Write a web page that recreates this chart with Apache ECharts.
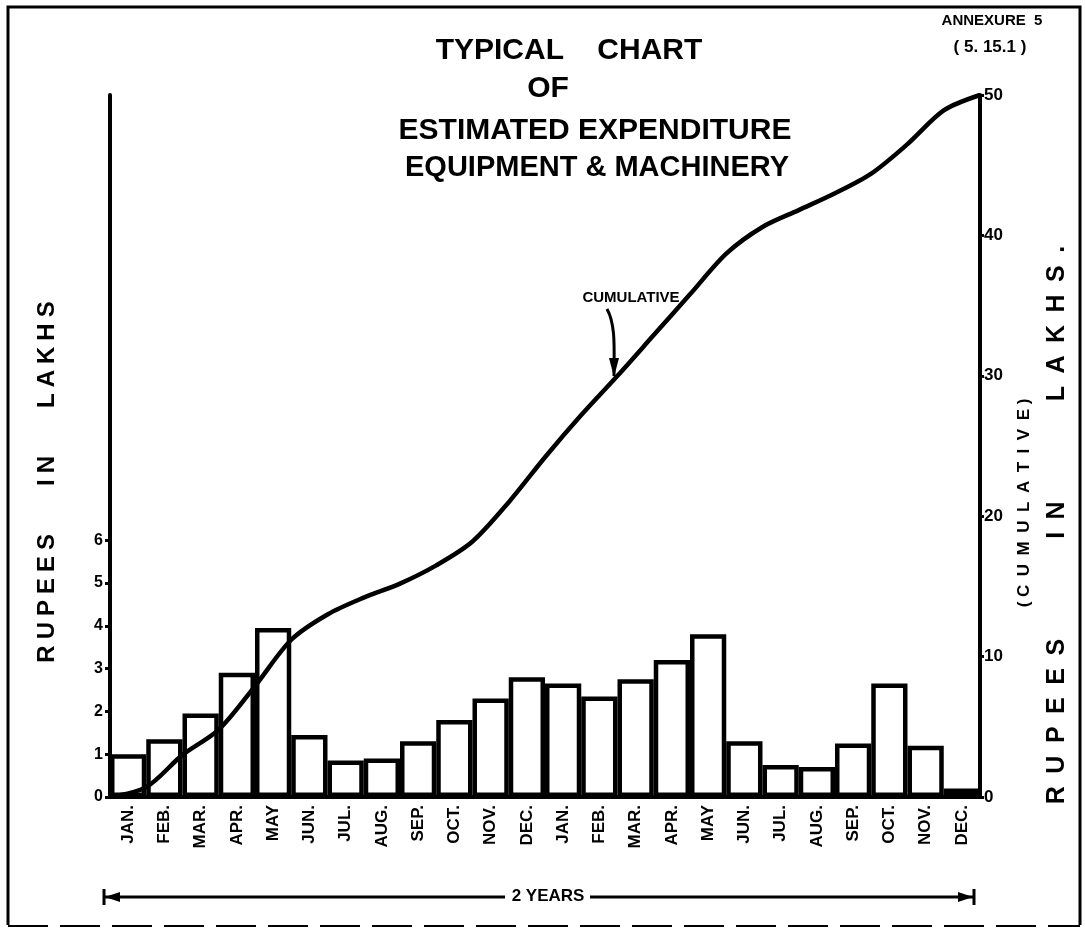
<!DOCTYPE html>
<html>
<head>
<meta charset="utf-8">
<script src="https://cdn.jsdelivr.net/npm/echarts@6/dist/echarts.min.js"></script>
<style>
html,body{margin:0;padding:0;background:#fff;}
#chart{width:1085px;height:935px;}
</style>
</head>
<body>
<div id="chart"></div>
<script>
// ---- data ----
const months = ["JAN.","FEB.","MAR.","APR.","MAY","JUN.","JUL.","AUG.","SEP.","OCT.","NOV.","DEC.",
                "JAN.","FEB.","MAR.","APR.","MAY","JUN.","JUL.","AUG.","SEP.","OCT.","NOV.","DEC."];
const monthlyExpenditure = [1.0,1.35,1.95,2.9,3.95,1.45,0.85,0.9,1.3,1.8,2.3,2.8,
                            2.65,2.35,2.75,3.2,3.8,1.3,0.75,0.7,1.25,2.65,1.2,0.2];
// cumulative value at each month boundary (0 = start of first JAN, 24 = end of last DEC)
const cumulative = [0,0.7,3.0,4.8,7.9,11.2,13.0,14.2,15.2,16.5,18.2,21.0,24.2,27.2,30.0,32.9,35.8,38.7,40.6,41.8,43.0,44.4,46.5,48.9,50];
const leftTicks = [0,1,2,3,4,5,6];
const rightTicks = [0,10,20,30,40,50];

const FONT = '"Liberation Sans", Arial, sans-serif';
const spaced = (s, sep) => s.split('').join(sep);

const chart = echarts.init(document.getElementById('chart'));
const lineData = cumulative.map((v, i) => [i, v]);

chart.setOption({
  animation: false,
  backgroundColor: '#fff',
  grid: { left: 110, right: 105, top: 95, bottom: 138, containLabel: false },
  xAxis: [
    {
      type: 'category', data: months, gridIndex: 0,
      axisLine: { lineStyle: { color: '#000', width: 4 } },
      axisTick: { show: false },
      axisLabel: { rotate: 90, color: '#000', fontFamily: FONT, fontWeight: 'bold', fontSize: 17, margin: 8, interval: 0 }
    },
    { type: 'value', min: 0, max: 24, show: false, gridIndex: 0 }
  ],
  yAxis: [
    {
      type: 'value', min: 0, max: 16.4, position: 'left',
      splitLine: { show: false },
      axisLine: { show: true, lineStyle: { color: '#000', width: 4 } },
      axisTick: { show: true, length: 5, lineStyle: { color: '#000', width: 3 }, customValues: leftTicks },
      axisLabel: { color: '#000', fontFamily: FONT, fontWeight: 'bold', fontSize: 16, margin: 7, customValues: leftTicks }
    },
    {
      type: 'value', min: 0, max: 50, position: 'right',
      splitLine: { show: false },
      axisLine: { show: true, lineStyle: { color: '#000', width: 4 } },
      axisTick: { show: true, length: 4, lineStyle: { color: '#000', width: 3 }, customValues: rightTicks },
      axisLabel: { color: '#000', fontFamily: FONT, fontWeight: 'bold', fontSize: 17, margin: 4, customValues: rightTicks }
    }
  ],
  series: [
    {
      type: 'bar', data: monthlyExpenditure, xAxisIndex: 0, yAxisIndex: 0,
      barCategoryGap: '0%',
      itemStyle: { color: '#fff', borderColor: '#000', borderWidth: 4.5 }
    },
    {
      type: 'line', data: lineData, xAxisIndex: 1, yAxisIndex: 1,
      smooth: 0.3, showSymbol: false, z: 5,
      lineStyle: { color: '#000', width: 4.5 }
    }
  ],
  graphic: [
    // frame
    { type: 'polyline', shape: { points: [[8, 925], [8, 7], [1080, 7], [1080, 925]] }, style: { stroke: '#000', lineWidth: 3, fill: null } },
    { type: 'line', shape: { x1: 8, y1: 926, x2: 1080, y2: 926 }, style: { stroke: '#000', lineWidth: 2, lineDash: [40, 12] } },
    // titles
    { type: 'text', x: 569, y: 51, style: { text: 'TYPICAL    CHART', font: 'bold 30px ' + FONT, fill: '#000', textAlign: 'center', textVerticalAlign: 'middle' } },
    { type: 'text', x: 548, y: 89, style: { text: 'OF', font: 'bold 30px ' + FONT, fill: '#000', textAlign: 'center', textVerticalAlign: 'middle' } },
    { type: 'text', x: 595, y: 131, style: { text: 'ESTIMATED EXPENDITURE', font: 'bold 30px ' + FONT, fill: '#000', textAlign: 'center', textVerticalAlign: 'middle' } },
    { type: 'text', x: 597, y: 168, style: { text: 'EQUIPMENT & MACHINERY', font: 'bold 29px ' + FONT, fill: '#000', textAlign: 'center', textVerticalAlign: 'middle' } },
    { type: 'text', x: 992, y: 21, style: { text: 'ANNEXURE  5', font: 'bold 15px ' + FONT, fill: '#000', textAlign: 'center', textVerticalAlign: 'middle' } },
    { type: 'text', x: 990, y: 47, style: { text: '( 5. 15.1 )', font: 'bold 17px ' + FONT, fill: '#000', textAlign: 'center', textVerticalAlign: 'middle' } },
    // axis titles
    { type: 'text', x: 47, y: 482, rotation: Math.PI / 2, style: { text: spaced('RUPEES', '\u2005') + '\u2003\u2003' + spaced('IN', '\u2005') + '\u2003\u2003' + spaced('LAKHS', '\u2005'), font: 'bold 24px ' + FONT, fill: '#000', textAlign: 'center', textVerticalAlign: 'middle' } },
    { type: 'text', x: 1024, y: 503, rotation: Math.PI / 2, style: { text: '( ' + spaced('CUMULATIVE', '\u2002') + ' )', font: 'bold 17px ' + FONT, fill: '#000', textAlign: 'center', textVerticalAlign: 'middle' } },
    { type: 'text', x: 1057, y: 525, rotation: Math.PI / 2, style: { text: spaced('RUPEES', '\u2002') + '\u2003\u2003\u2003\u2003' + spaced('IN', '\u2002') + '\u2003\u2003\u2003\u2003' + spaced('LAKHS.', '\u2002'), font: 'bold 25px ' + FONT, fill: '#000', textAlign: 'center', textVerticalAlign: 'middle' } },
    // cumulative annotation
    { type: 'text', x: 631, y: 298, style: { text: 'CUMULATIVE', font: 'bold 15px ' + FONT, fill: '#000', textAlign: 'center', textVerticalAlign: 'middle' } },
    { type: 'bezierCurve', shape: { x1: 607, y1: 309, cpx1: 616, cpy1: 325, cpx2: 614, cpy2: 350, x2: 614, y2: 376 }, style: { stroke: '#000', lineWidth: 3, fill: null } },
    { type: 'polygon', shape: { points: [[609, 358], [619, 358], [614, 377]] }, style: { fill: '#000' } },
    // 2 years span
    { type: 'line', shape: { x1: 104, y1: 897, x2: 505, y2: 897 }, style: { stroke: '#000', lineWidth: 3 } },
    { type: 'line', shape: { x1: 590, y1: 897, x2: 974, y2: 897 }, style: { stroke: '#000', lineWidth: 3 } },
    { type: 'line', shape: { x1: 104, y1: 889, x2: 104, y2: 905 }, style: { stroke: '#000', lineWidth: 3 } },
    { type: 'line', shape: { x1: 974, y1: 889, x2: 974, y2: 905 }, style: { stroke: '#000', lineWidth: 3 } },
    { type: 'polygon', shape: { points: [[105, 897], [120, 892], [120, 902]] }, style: { fill: '#000' } },
    { type: 'polygon', shape: { points: [[973, 897], [958, 892], [958, 902]] }, style: { fill: '#000' } },
    { type: 'text', x: 548, y: 896, style: { text: '2 YEARS', font: 'bold 17px ' + FONT, fill: '#000', textAlign: 'center', textVerticalAlign: 'middle' } }
  ]
});
</script>
</body>
</html>
